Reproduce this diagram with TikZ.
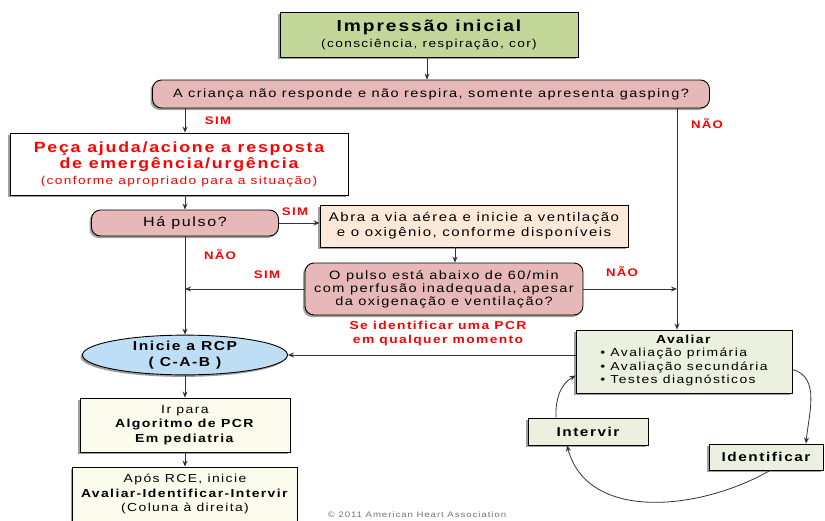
\documentclass[tikz,border=0pt]{standalone}
\usepackage{fontspec}
\setmainfont{Liberation Sans}[FakeStretch=1.2, LetterSpace=12]
\usetikzlibrary{arrows.meta, positioning, shapes.geometric, shadows}
\definecolor{verdeimp}{RGB}{196,215,155}
\definecolor{rosa}{RGB}{230,185,184}
\definecolor{pessego}{RGB}{253,233,217}
\definecolor{verdeclaro}{RGB}{235,241,222}
\definecolor{azulrcp}{RGB}{190,222,245}
\definecolor{creme}{RGB}{252,252,238}
\tikzset{
  box/.style={
    draw,
    rectangle,
    line width=0.9pt,
    align=center,
    inner sep=2pt,
    drop shadow={shadow xshift=-2pt, shadow yshift=-2pt, fill=black!75}
  },
  decisao/.style={
    box,
    rounded corners=9pt,
    fill=rosa
  },
  verdebox/.style={
    box,
    fill=verdeclaro
  },
  rotulo/.style={
    text=red,
    font=\fontsize{11}{13}\selectfont\bfseries
  },
  arrow/.style={
    ->,
    >={Stealth[length=6pt,width=5pt]},
    line width=0.8pt,
    black!80
  }
}
\begin{document}
\begin{tikzpicture}[x=1pt, y=-1pt]
  \useasboundingbox (0,0) rectangle (825,520);

  \node[box, fill=verdeimp, minimum width=298pt, minimum height=45pt,
        font=\fontsize{16}{18}\selectfont\bfseries] (imp) at (429,34.5)
    {Impressão inicial\\[-2pt]
     \fontsize{11.4}{13}\selectfont\mdseries (consciência, respiração, cor)};
  \node[decisao, minimum width=557pt, minimum height=28pt,
        font=\fontsize{12.1}{14}\selectfont] (cri) at (431,94)
    {A criança não responde e não respira, somente apresenta gasping?};
  \node[box, fill=white, minimum width=338pt, minimum height=62pt, text=red,
        font=\fontsize{14.8}{16}\selectfont\bfseries] (peca) at (179,164)
    {Peça ajuda/acione a resposta\\ de emergência/urgência\\
     \fontsize{11.4}{13}\selectfont\mdseries (conforme apropriado para a situação)};
  \node[decisao, minimum width=187pt, minimum height=26pt,
        font=\fontsize{13.4}{15}\selectfont] (pulso) at (185,223) {Há pulso?};
  \node[box, fill=pessego, minimum width=308pt, minimum height=42pt,
        font=\fontsize{12.5}{15}\selectfont] (abra) at (474,226)
    {Abra a via aérea e inicie a ventilação\\ e o oxigênio, conforme disponíveis};
  \node[decisao, minimum width=278pt, minimum height=52pt, inner sep=1pt,
        font=\fontsize{12.1}{13}\selectfont] (opulso) at (444,289)
    {O pulso está abaixo de 60/min\\ com perfusão inadequada, apesar\\ da oxigenação e ventilação?};
  \node[box, ellipse, fill=azulrcp, minimum width=205pt, minimum height=36pt, inner sep=0pt,
        font=\fontsize{13}{16}\selectfont\bfseries] (rcp) at (185,355)
    {Inicie a RCP\\ ( C-A-B )};
  \node[box, fill=creme, minimum width=210pt, minimum height=54pt,
        font=\fontsize{11.7}{14.5}\selectfont] (irpara) at (185,425)
    {Ir para\\ \textbf{Algoritmo de PCR}\\ \textbf{Em pediatria}};
  \node[box, fill=creme, minimum width=225pt, minimum height=54pt,
        font=\fontsize{11.6}{14.5}\selectfont] (apos) at (185,494)
    {Após RCE, inicie\\ \textbf{Avaliar-Identificar-Intervir}\\ (Coluna à direita)};
  \node[verdebox, minimum width=216pt, minimum height=63pt,
        font=\fontsize{11.6}{13.5}\selectfont] (aval) at (684,361.5)
    {\textbf{Avaliar}\\
     \begin{tabular}[t]{@{}l@{}}• Avaliação primária\\ • Avaliação secundária\\ • Testes diagnósticos\end{tabular}};
  \node[verdebox, minimum width=120pt, minimum height=27pt,
        font=\fontsize{12.8}{15}\selectfont\bfseries] (interv) at (588,431.5) {Intervir};
  \node[verdebox, minimum width=114pt, minimum height=26pt,
        font=\fontsize{12.8}{15}\selectfont\bfseries] (ident) at (766,457) {Identificar};

  \coordinate (nao) at ([xshift=-7pt]aval.north);
  \coordinate (topo) at ([xshift=-2pt]imp.south);

  \draw[arrow] (topo) -- (topo |- cri.north);
  \draw[arrow] (cri.south -| pulso) -- (peca.north -| pulso);
  \draw[arrow] (peca.south -| pulso) -- (pulso.north);
  \draw[arrow] (pulso.east) -- (pulso.east -| abra.west);
  \draw[arrow] ([xshift=11pt]opulso.north |- abra.south) -- ([xshift=11pt]opulso.north);
  \draw[arrow] (pulso.south) -- (rcp.north);
  \draw[arrow] (opulso.west) -- (opulso.west -| pulso);
  \draw[arrow] (opulso.east) -- (opulso.east -| nao);
  \draw[arrow] (cri.south -| nao) -- (nao);
  \draw[arrow] (aval.west |- rcp.east) -- (rcp.east);
  \draw[arrow] (rcp.south) -- (irpara.north);
  \draw[arrow] (irpara.south) -- (apos.north);

  \draw[arrow] ([yshift=-8pt]aval.east) to[out=-15, in=85] ([xshift=40pt]ident.north);
  \draw[arrow] ([xshift=4pt]ident.south) to[out=-150, in=-75] ([xshift=-21pt]interv.south);
  \draw[arrow] ([xshift=-32pt]interv.north) to[out=92, in=-150] ([yshift=-14pt]aval.west);

  \node[rotulo] (sim1) at (218,121) {SIM};
  \node[rotulo] (nao1) at (707,124) {NÃO};
  \node[rotulo] (sim2) at (295,212) {SIM};
  \node[rotulo] (nao2) at (220,255) {NÃO};
  \node[rotulo] (sim3) at (267,275) {SIM};
  \node[rotulo] (nao3) at (622,272) {NÃO};
  \node[rotulo, align=center, font=\fontsize{11.5}{14}\selectfont\bfseries] (qualquer) at (438,334)
    {Se identificar uma PCR\\ em qualquer momento};
  \node[text=black!55, font=\fontsize{8}{9}\selectfont] (aha) at (417,515)
    {© 2011 American Heart Association};
\end{tikzpicture}
\end{document}
